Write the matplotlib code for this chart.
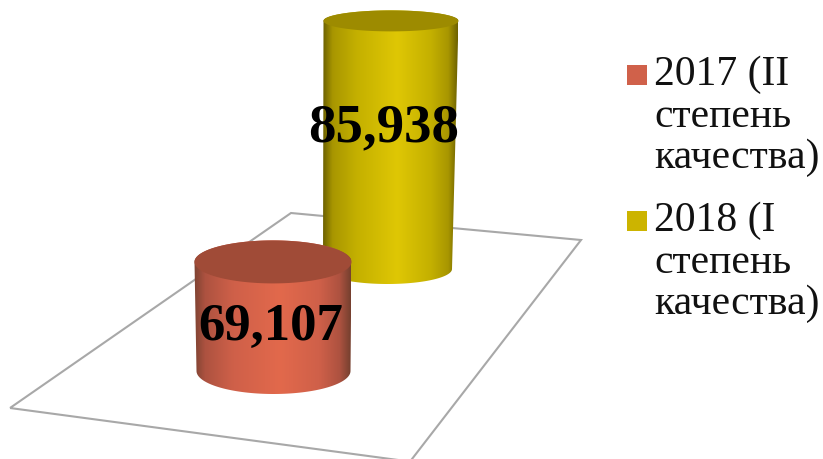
import numpy as np
import matplotlib
matplotlib.use('Agg')
import matplotlib.pyplot as plt
from matplotlib.colors import LinearSegmentedColormap
from matplotlib.patches import Polygon, Rectangle

plt.rcParams['font.family'] = ['Liberation Serif', 'DejaVu Serif']

# data
values = [69.107, 85.938]
value_labels = ['69,107', '85,938']
legend_labels = ['2017 (II\nстепень\nкачества)', '2018 (I\nстепень\nкачества)']

# look
stops = [0, 0.07, 0.25, 0.55, 0.8, 0.93, 1]
side_colors = [['#7e4332', '#ad5240', '#cf6049', '#e2694c', '#cf6049', '#ad5240', '#75402f'],
               ['#6e6200', '#a89600', '#c4b000', '#dfc705', '#c4b000', '#a89600', '#6e6200']]
top_colors = ['#a04b37', '#9d8b00']
legend_colors = ['#d0614a', '#ccb400']

# cylinder placement in pixels: x centre top/bottom, half width top/bottom,
# floor y, ry top/bottom. height comes from the value
cyl = [dict(cx_top=273, cx_bot=273.5, rx_top=78.5, rx_bot=77, y_bot=372, ry_top=21.5, ry_bot=23),
       dict(cx_top=391, cx_bot=387.5, rx_top=67.5, rx_bot=64.5, y_bot=270, ry_top=10.5, ry_bot=15)]
axis_min = 55.9
px_per_unit = 8.26

fig = plt.figure(figsize=(8.23, 4.6), dpi=100)
ax = fig.add_axes([0, 0, 1, 1])
ax.set_xlim(0, 823)
ax.set_ylim(460, 0)
ax.axis('off')

# floor
floor = Polygon([(10, 409), (291, 214), (581, 241), (410, 462.6)], closed=True,
                fill=False, edgecolor='#a8a8a8', lw=1.5, zorder=1)
ax.add_patch(floor)


def draw_cylinder(ax, value, c, side, top, zorder):
    y_top = c['y_bot'] - (value - axis_min) * px_per_unit
    t = np.linspace(0, np.pi, 80)
    # side outline: bottom front arc then up to the top rim
    xb = c['cx_bot'] - c['rx_bot'] * np.cos(t)
    yb = c['y_bot'] + c['ry_bot'] * np.sin(t)
    xt = c['cx_top'] + c['rx_top'] * np.cos(t)
    yt = y_top - c['ry_top'] * np.sin(t)
    body = Polygon(np.column_stack([np.r_[xb, xt], np.r_[yb, yt]]), closed=True,
                   facecolor='none', edgecolor='none')
    ax.add_patch(body)

    cmap = LinearSegmentedColormap.from_list('side', list(zip(stops, side)))
    grad = np.linspace(0, 1, 256).reshape(1, -1)
    left = c['cx_top'] - c['rx_top']
    right = c['cx_top'] + c['rx_top']
    im = ax.imshow(grad, cmap=cmap, aspect='auto', zorder=zorder,
                   extent=[left, right, c['y_bot'] + c['ry_bot'], y_top - c['ry_top']])
    im.set_clip_path(body)

    t2 = np.linspace(0, 2 * np.pi, 160)
    ax.fill(c['cx_top'] + c['rx_top'] * np.cos(t2), y_top + c['ry_top'] * np.sin(t2),
            color=top, lw=0, zorder=zorder + 0.1)
    return y_top


for i in [1, 0]:
    draw_cylinder(ax, values[i], cyl[i], side_colors[i], top_colors[i], 2 + (1 - i))

ax.set_xlim(0, 823)
ax.set_ylim(460, 0)

# value labels
ax.text(271, 327, value_labels[0], fontsize=38, fontweight='bold', color='black',
        ha='center', va='center', zorder=6)
ax.text(384, 128, value_labels[1], fontsize=39.5, fontweight='bold', color='black',
        ha='center', va='center', zorder=6)

# legend
legend_y = [66, 212]
for lab, col, y in zip(legend_labels, legend_colors, legend_y):
    ax.add_patch(Rectangle((627, y), 20, 20, facecolor=col, edgecolor='none', zorder=6))
    ax.text(654, y - 10, lab, fontsize=30, color='#111111', ha='left', va='top',
            linespacing=1.09, zorder=6)

fig.savefig('out.png', dpi=100)
